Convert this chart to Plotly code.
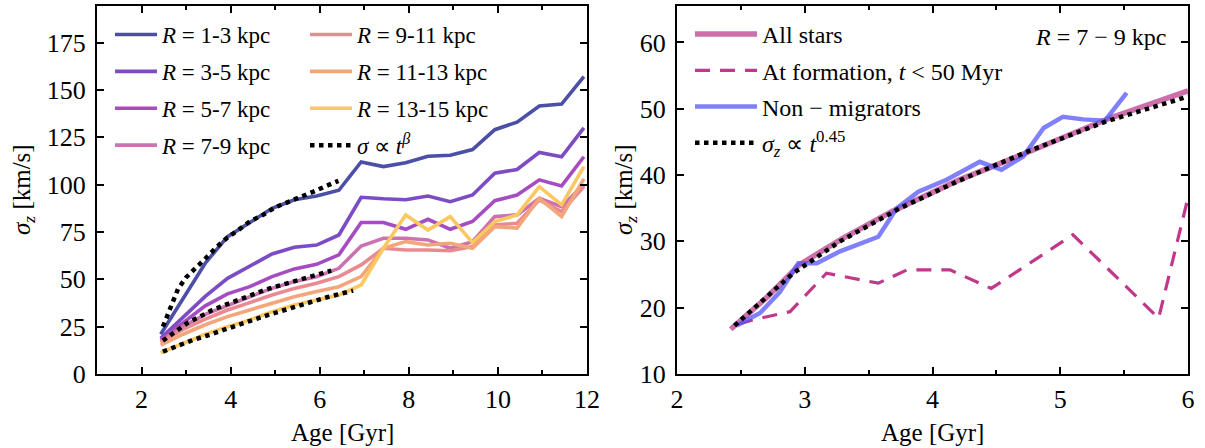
import plotly.graph_objects as go

# ---------------- data ----------------
ages_bins = [2.43, 2.93, 3.43, 3.93, 4.43, 4.93, 5.43, 5.93, 6.43, 6.93,
             7.43, 7.93, 8.43, 8.93, 9.43, 9.93, 10.43, 10.93, 11.43, 11.93]

sig_R1_3 = [21, 40, 58.5, 72.5, 80, 87.5, 92, 94, 97, 112, 109.5, 111.5, 115, 115.5, 118.5, 129, 133, 141.5, 142.5, 157]
sig_R3_5 = [18.8, 30, 41, 50.5, 56.7, 63.4, 66.9, 68.1, 73.4, 93.3, 92.5, 92, 94, 91, 94.5, 106, 108, 117, 114.7, 130]
sig_R5_7 = [18, 27, 36, 42.3, 46.1, 51.4, 55.5, 57.9, 62.9, 80, 80, 76.4, 81.7, 76.4, 80.5, 91.5, 94.5, 102.5, 99.3, 114.7]
sig_R7_9 = [17.6, 25, 31.5, 36.4, 40.8, 45.2, 48.8, 51.4, 55.8, 67.6, 71.7, 71.7, 70.8, 66.4, 69.9, 83.1, 84, 92.8, 88.4, 100]
sig_R9_11 = [16.7, 23.5, 29, 33.8, 37.7, 41.7, 45.2, 47.9, 51.4, 57.6, 66.4, 65.5, 65.5, 65.1, 67.3, 78.7, 79.6, 91.9, 85.7, 99]
sig_R11_13 = [15.3, 21, 26, 30.3, 33.8, 37.3, 40.8, 43.5, 46.1, 51.4, 66.4, 69.9, 68.1, 69, 66.4, 77.8, 77, 92.8, 83.1, 103]
sig_R13_15 = [11.3, 16, 21, 25, 28.5, 32.9, 36.4, 39.1, 41.7, 47, 66.4, 84, 76, 83.1, 69.4, 80.5, 84, 98.9, 89.3, 109.5]

# power-law fits (left panel)
fit_hi_age = [2.48, 2.59, 2.82, 3.0, 3.23, 3.46, 3.68, 3.91, 4.17, 4.43, 4.73, 5.0, 5.26, 5.56, 5.86, 6.12, 6.42]
fit_hi_sig = [25, 32, 45, 51, 56.7, 61.6, 66.9, 71.7, 76, 80.5, 84, 88, 90.5, 93.7, 96.3, 99, 102]
fit_mid_age = [2.48, 2.77, 3.04, 3.31, 3.59, 3.87, 4.17, 4.47, 4.77, 5.07, 5.37, 5.67, 5.97, 6.26]
fit_mid_sig = [17.6, 22.4, 27.1, 30.3, 33.8, 36.4, 39.1, 41.7, 44.4, 46.5, 48.4, 50.5, 52.3, 54.6]
fit_lo_age = [2.48, 2.78, 3.16, 3.46, 3.76, 4.06, 4.36, 4.66, 4.96, 5.26, 5.56, 5.86, 6.16, 6.46, 6.75]
fit_lo_sig = [11.8, 14.8, 18, 20.2, 22.7, 25, 27.5, 29.8, 32, 34.2, 36.4, 38.6, 40.5, 42.3, 44]

# right panel (R = 7-9 kpc)
all_age = [2.42, 2.7, 2.96, 3.3, 3.69, 4.2, 4.74, 5.39, 6.0]
all_sig = [16.75, 21.5, 26.5, 30.5, 34.6, 39.2, 43.4, 48.6, 52.7]
form_age = [2.48, 2.6, 2.885, 3.17, 3.576, 3.8, 4.137, 4.46, 5.10, 5.77, 5.99]
form_sig = [17.5, 18.2, 19.4, 25.2, 23.7, 25.7, 25.7, 22.9, 31, 18.4, 35.8]
nonmig_age = [2.467, 2.65, 2.806, 2.95, 3.094, 3.276, 3.576, 3.72, 3.889, 4.11, 4.37, 4.54, 4.71, 4.87, 5.02, 5.18, 5.35, 5.52]
nonmig_sig = [17.3, 19.2, 22.4, 26.7, 26.7, 28.5, 30.7, 35, 37.5, 39.3, 42.0, 40.8, 42.8, 47.1, 48.8, 48.4, 48.2, 52.4]
fitr_age = [2.45, 2.91, 3.276, 3.745, 4.19, 4.737, 5.36, 6.0]
fitr_sig = [17.3, 25.2, 30, 35, 39, 43.5, 48.1, 51.85]

left_labels = ["1-3", "3-5", "5-7", "7-9", "9-11", "11-13", "13-15"]
left_colors = ["#4b4fa6", "#7b4cc4", "#a64cc2", "#cc72b0", "#e98a90", "#f5a57a", "#fbc860"]
left_series = [sig_R1_3, sig_R3_5, sig_R5_7, sig_R7_9, sig_R9_11, sig_R11_13, sig_R13_15]

# ---------------- figure ----------------
W, H = 1205, 448
FONT = "Liberation Serif, Times New Roman, Times, serif"
fig = go.Figure()

for i, (lab, col, ys) in enumerate(zip(left_labels, left_colors, left_series)):
    fig.add_trace(go.Scatter(
        x=ages_bins, y=ys, mode="lines",
        line=dict(color=col, width=3.6),
        name=f"<i>R</i> = {lab} kpc",
        legend="legend" if i < 4 else "legend2",
        legendgroup=f"g{i}",
        xaxis="x", yaxis="y"))

for j, (ax_, ay_) in enumerate([(fit_hi_age, fit_hi_sig), (fit_mid_age, fit_mid_sig), (fit_lo_age, fit_lo_sig)]):
    fig.add_trace(go.Scatter(
        x=ax_, y=ay_, mode="lines",
        line=dict(color="black", width=4.5, dash="dot"),
        name="<i>σ</i> ∝ <i>t</i><sup><i>β</i></sup>",
        showlegend=(j == 0), legend="legend2", legendgroup="gfit",
        xaxis="x", yaxis="y"))

fig.add_trace(go.Scatter(x=all_age, y=all_sig, mode="lines",
                         line=dict(color="#cc6fab", width=5.5),
                         name="All stars", legend="legend3", legendgroup="r1",
                         xaxis="x2", yaxis="y2"))
fig.add_trace(go.Scatter(x=form_age, y=form_sig, mode="lines",
                         line=dict(color="#c0388a", width=3.2, dash="15px,10px"),
                         name="At formation, <i>t</i> < 50 Myr", legend="legend3", legendgroup="r2",
                         xaxis="x2", yaxis="y2"))
fig.add_trace(go.Scatter(x=nonmig_age, y=nonmig_sig, mode="lines",
                         line=dict(color="rgba(85,85,250,0.75)", width=4.5),
                         name="Non − migrators", legend="legend3", legendgroup="r3",
                         xaxis="x2", yaxis="y2"))
fig.add_trace(go.Scatter(x=fitr_age, y=fitr_sig, mode="lines",
                         line=dict(color="black", width=4.5, dash="dot"),
                         name="<i>σ<sub>z</sub></i> ∝ <i>t</i><sup>0.45</sup>", legend="legend3", legendgroup="r4",
                         xaxis="x2", yaxis="y2"))

def px_x(p):
    return p / W

def px_y(p):
    return 1 - p / H

axis_common = dict(
    showline=True, linecolor="black", linewidth=2, mirror="ticks",
    ticks="inside", ticklen=7, tickwidth=1.5, tickcolor="black",
    showgrid=False, zeroline=False,
    tickfont=dict(family=FONT, size=26, color="black"),
    automargin=False,
)

yd = [px_y(374), px_y(6)]
LEG_FONT = dict(family=FONT, size=23, color="black")
fig.update_layout(
    width=W, height=H,
    margin=dict(l=0, r=0, t=0, b=0),
    paper_bgcolor="white", plot_bgcolor="white",
    font=dict(family=FONT, color="black"),
    xaxis=dict(domain=[px_x(97), px_x(587)], range=[1, 12], tickvals=[2, 4, 6, 8, 10, 12],
               minor=dict(ticks="inside", ticklen=4, tickwidth=1.5, tickcolor="black", dtick=1, tick0=1),
               ticklabelstandoff=1, anchor="y", **axis_common),
    yaxis=dict(domain=yd, range=[0, 194.3], tickvals=[0, 25, 50, 75, 100, 125, 150, 175],
               ticklabelstandoff=4, anchor="x", **axis_common),
    xaxis2=dict(domain=[px_x(677), px_x(1188)], range=[2, 6], tickvals=[2, 3, 4, 5, 6],
                minor=dict(ticks="inside", ticklen=4, tickwidth=1.5, tickcolor="black", dtick=0.5, tick0=2),
                ticklabelstandoff=1, anchor="y2", **axis_common),
    yaxis2=dict(domain=yd, range=[10, 65.5], tickvals=[10, 20, 30, 40, 50, 60],
                ticklabelstandoff=4, anchor="x2", **axis_common),
    legend=dict(x=px_x(110), y=px_y(13), xanchor="left", yanchor="top",
                bgcolor="rgba(0,0,0,0)", font=LEG_FONT,
                tracegroupgap=4, itemwidth=42),
    legend2=dict(x=px_x(305), y=px_y(13), xanchor="left", yanchor="top",
                 bgcolor="rgba(0,0,0,0)", font=LEG_FONT,
                 tracegroupgap=4, itemwidth=42),
    legend3=dict(x=px_x(690), y=px_y(12), xanchor="left", yanchor="top",
                 bgcolor="rgba(0,0,0,0)", font=dict(family=FONT, size=24, color="black"),
                 tracegroupgap=2, itemwidth=62),
    annotations=[
        dict(text="Age [Gyr]", x=px_x(342), y=px_y(432), xref="paper", yref="paper",
             xanchor="center", yanchor="middle",
             showarrow=False, font=dict(family=FONT, size=25, color="black")),
        dict(text="Age [Gyr]", x=px_x(932), y=px_y(432), xref="paper", yref="paper",
             xanchor="center", yanchor="middle",
             showarrow=False, font=dict(family=FONT, size=25, color="black")),
        dict(text="<i>σ<sub>z</sub></i> [km/s]", x=px_x(24), y=px_y(190), xref="paper", yref="paper",
             xanchor="center", yanchor="middle",
             showarrow=False, textangle=-90, font=dict(family=FONT, size=25, color="black")),
        dict(text="<i>σ<sub>z</sub></i> [km/s]", x=px_x(626), y=px_y(190), xref="paper", yref="paper",
             xanchor="center", yanchor="middle",
             showarrow=False, textangle=-90, font=dict(family=FONT, size=25, color="black")),
        dict(text="<i>R</i> = 7 − 9 kpc", x=px_x(1168), y=px_y(37), xref="paper", yref="paper",
             xanchor="right", yanchor="middle", showarrow=False,
             font=dict(family=FONT, size=24, color="black")),
    ],
)

fig.write_html("out.html", config={"displayModeBar": False},
               post_script="document.body.style.margin='0px';document.body.style.overflow='hidden';")
